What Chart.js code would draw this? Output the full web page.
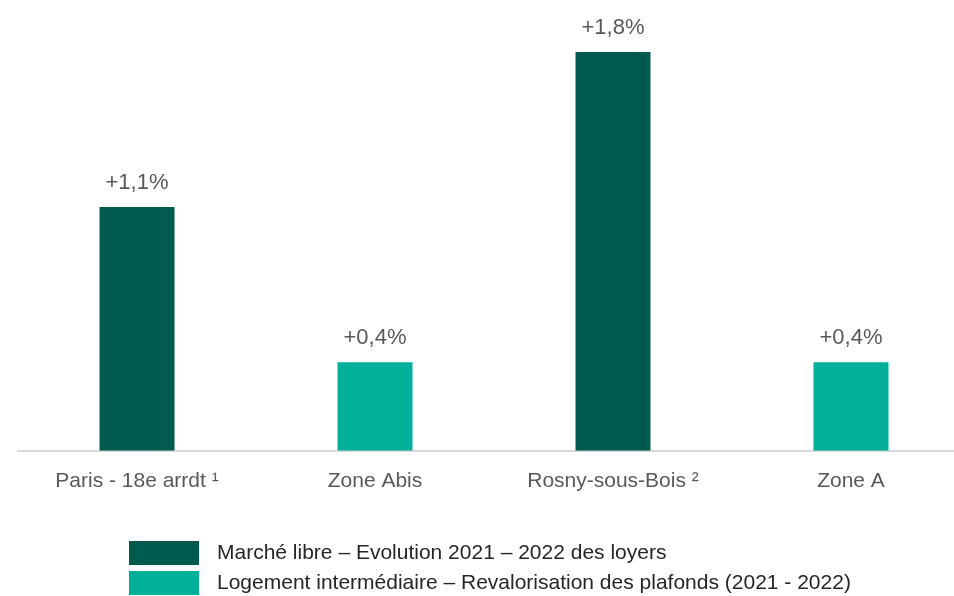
<!DOCTYPE html>
<html lang="fr">
<head>
<meta charset="utf-8">
<title>Loyers 2021 - 2022</title>
<script src="https://cdn.jsdelivr.net/npm/chart.js@4/dist/chart.umd.min.js"></script>
<style>
    html, body { margin: 0; padding: 0; background: #fff; overflow: hidden; }
    #wrap { position: relative; width: 970px; height: 596px; }
</style>
</head>
<body>
<div id="wrap"><canvas id="loyersChart"></canvas></div>
<script>
const categories = ['Paris - 18e arrdt ¹', 'Zone Abis', 'Rosny-sous-Bois ²', 'Zone A'];
const seriesNames = [
    'Marché libre – Evolution 2021 – 2022 des loyers',
    'Logement intermédiaire – Revalorisation des plafonds (2021 - 2022)'
];
const marcheLibre = [1.1, null, 1.8, null];
const logementIntermediaire = [null, 0.4, null, 0.4];

const DARK = '#015a4e';
const TEAL = '#00af98';
const FONT = '"Liberation Sans", Arial, sans-serif';

// value labels above each bar, "+1,1%" style
const valueLabels = {
    id: 'valueLabels',
    afterDatasetsDraw(chart) {
        const ctx = chart.ctx;
        ctx.save();
        ctx.font = '22px ' + FONT;
        ctx.fillStyle = '#595959';
        ctx.textAlign = 'center';
        ctx.textBaseline = 'middle';
        chart.data.datasets.forEach((ds, di) => {
            const meta = chart.getDatasetMeta(di);
            meta.data.forEach((bar, i) => {
                const v = ds.data[i];
                if (v === null) return;
                const txt = '+' + v.toFixed(1).replace('.', ',') + '%';
                ctx.fillText(txt, bar.x, bar.y - 24);
            });
        });
        ctx.restore();
    }
};

// legend stacked on two left-aligned rows under the axis
const stackedLegend = {
    id: 'stackedLegend',
    afterDraw(chart) {
        const ctx = chart.ctx;
        ctx.save();
        ctx.font = '21px ' + FONT;
        ctx.textBaseline = 'middle';
        ctx.textAlign = 'left';
        chart.data.datasets.forEach((ds, i) => {
            const y = 541 + i * 30;
            ctx.fillStyle = ds.backgroundColor;
            ctx.fillRect(129, y, 70, 24);
            ctx.fillStyle = '#262626';
            ctx.fillText(ds.label, 217, y + 12);
        });
        ctx.restore();
    }
};

new Chart(document.getElementById('loyersChart'), {
    type: 'bar',
    data: {
        labels: categories,
        datasets: [
            {
                label: seriesNames[0],
                data: marcheLibre,
                backgroundColor: DARK,
                grouped: false,
                categoryPercentage: 1,
                barPercentage: 0.315
            },
            {
                label: seriesNames[1],
                data: logementIntermediaire,
                backgroundColor: TEAL,
                grouped: false,
                categoryPercentage: 1,
                barPercentage: 0.315
            }
        ]
    },
    options: {
        responsive: true,
        maintainAspectRatio: false,
        animation: false,
        layout: {
            padding: { top: 52, left: 18, right: 0, bottom: 84 }
        },
        scales: {
            x: {
                grid: { display: false, drawTicks: false },
                border: { display: true, color: '#d9d9d9', width: 2 },
                ticks: {
                    color: '#595959',
                    padding: 18,
                    font: { family: FONT, size: 21 }
                }
            },
            y: {
                display: false,
                min: 0,
                max: 1.8
            }
        },
        plugins: {
            legend: { display: false },
            tooltip: { enabled: false }
        }
    },
    plugins: [valueLabels, stackedLegend]
});
</script>
</body>
</html>
